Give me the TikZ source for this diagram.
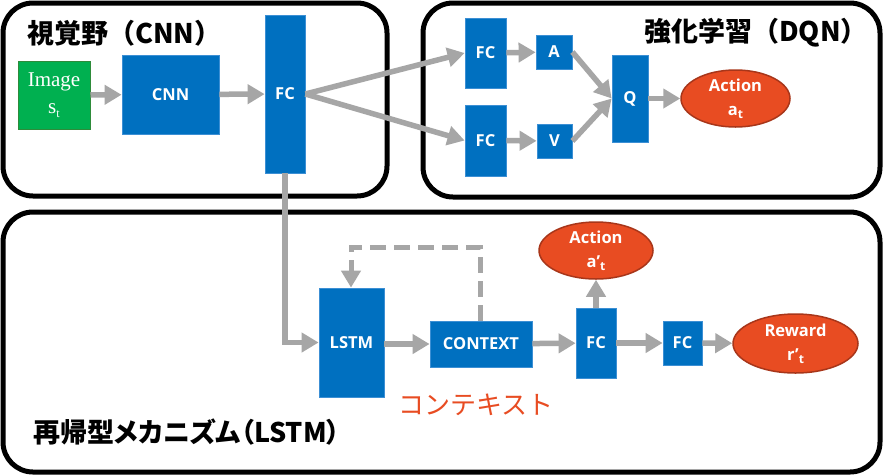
\documentclass[tikz,border=0pt]{standalone}
\usepackage{fontspec}
\setmainfont{Open Sans}
\newfontfamily\jp{Noto Sans CJK JP}
\newfontfamily\jpp{Noto Sans CJK JP}[RawFeature=+palt]
\newfontfamily\imgfont{Liberation Serif}
\usetikzlibrary{arrows.meta,shapes.geometric}
\definecolor{boxblue}{HTML}{0070C0}
\definecolor{boxedge}{HTML}{3C8FD4}
\definecolor{imggreen}{HTML}{00B050}
\definecolor{imgedge}{HTML}{2E8B3A}
\definecolor{ovfill}{HTML}{E84C22}
\definecolor{ovedge}{HTML}{A8361A}
\definecolor{arrgray}{HTML}{A6A6A6}
\newcommand\subt[1]{\raisebox{-0.35ex}{\fontsize{12pt}{12pt}\selectfont #1}}
\begin{document}
\begin{tikzpicture}[x=1pt,y=-1pt,
  frame/.style={draw=black, line width=5pt, rounded corners=30pt},
  bbox/.style={draw=boxedge, line width=0.8pt, fill=boxblue, text=white, inner sep=0pt,
    font=\bfseries\fontsize{16.5pt}{18pt}\selectfont},
  ovnode/.style={ellipse, draw=ovedge, line width=1.5pt, fill=ovfill, text=white, inner sep=0pt,
    align=center, font=\bfseries\fontsize{16.5pt}{24pt}\selectfont},
  arr/.style={draw=arrgray, line width=5.5pt, -{Triangle[length=17pt,width=19pt]}},
  dasharr/.style={draw=arrgray, line width=5pt, dash pattern=on 16pt off 8pt, -{Triangle[length=17pt,width=19pt]}},
  title/.style={inner sep=0pt, font=\jp\bfseries\fontsize{27pt}{30pt}\selectfont}
]
\useasboundingbox (0,0) rectangle (884,475);
\fill[white] (0,0) rectangle (884,475);
% frames
\draw[frame] (3,3) rectangle (387,196);
\draw[frame] (423,3) rectangle (880,197);
\draw[frame] (3,212) rectangle (880,472);
% titles
\node[title, anchor=west] (t1) at (27,33) {視覚野（CNN）};
\node[title, anchor=east] (t2) at (868,33) {強化学習（DQN）};
\node[title, anchor=west, font=\jpp\bfseries\fontsize{27pt}{30pt}\selectfont] (t3) at (33,432) {再帰型メカニズム（LSTM）};
\node[inner sep=0pt, anchor=west, text=ovfill, font=\jp\fontsize{26pt}{28pt}\selectfont] (ctxlab) at (398,405) {コンテキスト};
% nodes top
\node[draw=imgedge, line width=1pt, fill=imggreen, text=white, inner sep=0pt, align=center,
  minimum width=72pt, minimum height=68pt, font=\imgfont\fontsize{21pt}{27pt}\selectfont] (img) at (54,95) {Image\\s\subt{t}};
\node[bbox, minimum width=97pt, minimum height=79pt] (cnn) at (170.5,94.5) {CNN};
\node[bbox, minimum width=40pt, minimum height=158pt] (fc1) at (285,94) {FC};
\node[bbox, minimum width=41pt, minimum height=70pt] (fc2) at (485.5,53) {FC};
\node[bbox, minimum width=41pt, minimum height=71pt] (fc3) at (485.5,140.5) {FC};
\node[bbox, minimum width=36pt, minimum height=34pt] (a) at (554,52) {A};
\node[bbox, minimum width=35pt, minimum height=34pt] (v) at (554.5,141) {V};
\node[bbox, minimum width=36pt, minimum height=87pt] (q) at (630,98.5) {Q};
\node[ovnode, minimum width=109pt, minimum height=57pt] (act1) at (735.5,98.5) {Action\\a\subt{t}};
% nodes bottom
\node[bbox, minimum width=65pt, minimum height=109pt] (lstm) at (351.5,342.5) {LSTM};
\node[bbox, minimum width=102pt, minimum height=46pt] (ctx) at (481,344) {CONTEXT};
\node[bbox, minimum width=40pt, minimum height=70pt] (fc4) at (596,343) {FC};
\node[bbox, minimum width=39pt, minimum height=44pt] (fc5) at (682.5,343) {FC};
\node[ovnode, minimum width=125pt, minimum height=59pt] (rew) at (795.5,343.5) {Reward\\r’\subt{t}};
\node[ovnode, minimum width=114pt, minimum height=57pt] (act2) at (596,250.5) {Action\\a’\subt{t}};
% connectors top
\draw[arr] (img) -- (cnn);
\draw[arr] (cnn) -- (fc1);
\draw[arr] (fc1.east) -- (fc2.west);
\draw[arr] (fc1.east) -- (fc3.west);
\draw[arr] (fc2) -- (a);
\draw[arr] (fc3) -- (v);
\draw[arr] (a.east) -- (q.west);
\draw[arr] (v.east) -- (q.west);
\draw[arr] (q) -- (act1);
% connectors bottom
\draw[arr] (fc1.south) |- (lstm.west);
\draw[arr] (lstm.east |- ctx.west) -- (ctx.west);
\draw[arr] (ctx) -- (fc4);
\draw[arr] (fc4) -- (fc5);
\draw[arr] (fc5) -- (rew);
\draw[arr] (fc4) -- (act2);
\coordinate (loopr) at (480,247);
\coordinate (loopl) at (351,247);
\draw[dasharr] (ctx.north -| loopr) -- (loopr) -- (loopl) -- (lstm.north -| loopl);
\end{tikzpicture}
\end{document}
